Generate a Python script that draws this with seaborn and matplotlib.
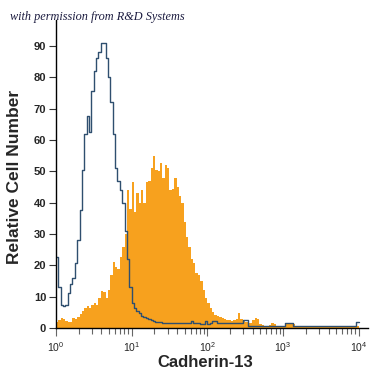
import numpy as np
import seaborn as sns
import matplotlib.pyplot as plt
from matplotlib.ticker import LogLocator

# channel counts, 128 channels over 4 decades (10^0 .. 10^4)
stained = [2, 2.5, 3.2, 3, 2.2, 1.8, 2, 3.2, 3, 3.6, 4.5, 5.5, 6.5, 7, 6.5, 7.3,
           8, 7.3, 9.6, 11.7, 11.5, 9.6, 12, 17, 21, 19.5, 19, 22.8, 26, 30, 44, 38,
           46.5, 37, 43, 40, 44, 40, 46.7, 47, 51, 55, 50.5, 50, 52.7, 48, 52, 51,
           44, 44.5, 48, 45, 42, 40, 34, 29, 26, 22, 20.7, 17.5, 17, 15, 12, 9.5,
           8, 6.5, 5, 4.3, 3.8, 3.5, 3.3, 2.9, 2.6, 2.5, 2.4, 2.5, 2.8, 4.8, 3, 2.3,
           1.8, 1.6, 1.7, 2.5, 3.2, 2.8, 1.2, 1.0, 0.8, 0.8, 1.0, 1.5, 1.4, 0.8, 0.6, 0.6,
           0.8, 1.5, 1.7, 1.7, 1.2, 0.6, 0.5, 0.5, 0.4, 0.5, 0.5, 0.4, 0.5, 0.4, 0.4, 0.5,
           0.4, 0.4, 0.4, 0.5, 0.4, 0.4, 0.4, 0.4, 0.5, 0.4, 0.4, 0.4, 0.4, 0.4, 0.5, 0.8]

isotype = [22.8, 13.2, 7.3, 7.0, 7.3, 11.2, 14, 16, 20.7, 28, 37.7, 50.5, 62, 67.7, 62.5, 75.5,
           82, 86, 88, 91, 91, 86, 80, 72, 62, 51, 47, 44, 40, 31, 22, 13,
           8, 6.4, 5.5, 4.8, 4, 3.5, 3.2, 2.8, 2.5, 2.2, 2.0, 1.8, 1.8, 1.7, 1.7, 1.7,
           1.7, 1.7, 1.7, 1.7, 1.7, 1.7, 1.7, 1.7, 1.7, 2.2, 1.7, 1.7, 1.7, 1.3, 1.3, 2.2,
           1.3, 1.7, 2.2, 2.2, 1.7, 1.7, 1.7, 1.7, 1.7, 1.7, 1.7, 1.7, 1.7, 1.7, 1.7, 2.5,
           2.5, 0.6, 0.6, 0.6, 0.6, 0.6, 0.6, 0.6, 0.6, 0.6, 0.6, 0.6, 0.6, 0.6, 0.6, 0.6,
           0.6, 1.7, 1.7, 1.7, 0.6, 0.6, 0.6, 0.6, 0.6, 0.6, 0.6, 0.6, 0.6, 0.6, 0.6, 0.6,
           0.6, 0.6, 0.6, 0.6, 0.6, 0.6, 0.6, 0.6, 0.6, 0.6, 0.6, 0.6, 0.6, 0.6, 0.6, 2.0]

n_ch = len(stained)
centers = 10 ** ((np.arange(n_ch) + 0.5) * 4 / n_ch)

sns.set_style("ticks")
plt.rcParams['font.family'] = ['Liberation Sans', 'DejaVu Sans']

fig = plt.figure(figsize=(3.75, 3.75), dpi=100)
ax = fig.add_axes([0.149, 0.125, 0.832, 0.822])

sns.histplot(x=centers, weights=stained, bins=n_ch, binrange=(0, 4), log_scale=True,
             element="step", fill=True, color="#F7A11E", alpha=1, linewidth=0, ax=ax)
sns.histplot(x=centers, weights=isotype, bins=n_ch, binrange=(0, 4), log_scale=True,
             element="step", fill=False, color="#2f4f6f", linewidth=1.0, ax=ax)

ax.set_xlim(1, 10 ** 4.12)
ax.set_ylim(0, 98.3)
ax.set_yticks(range(0, 91, 10))
ax.xaxis.set_major_locator(LogLocator(base=10, numticks=10))
ax.xaxis.set_minor_locator(LogLocator(base=10, subs=np.arange(2, 10), numticks=20))
sns.despine(ax=ax)
for s in ['left', 'bottom']:
    ax.spines[s].set_linewidth(1.0)
    ax.spines[s].set_color('black')

ax.tick_params(axis='y', length=5, width=0.8, color='#333333', labelsize=8, pad=2)
ax.tick_params(axis='x', which='major', length=6, width=0.8, color='#666666', labelsize=7.5, pad=3)
ax.tick_params(axis='x', which='minor', length=4, width=0.8, color='#666666')
for t in ax.get_yticklabels():
    t.set_fontweight('bold')

ax.set_xlabel("Cadherin-13", fontsize=12, fontweight='bold')
ax.set_ylabel("Relative Cell Number", fontsize=12.5, fontweight='bold')
ax.xaxis.set_label_coords(0.478, -0.088)
ax.yaxis.set_label_coords(-0.108, 0.49)

fig.text(0.027, 0.955, "with permission from R&D Systems", fontsize=8.8, style='italic',
         family=['Liberation Serif', 'DejaVu Serif'], color='#1c1c40', va='center')

fig.savefig("out.png", dpi=100)
